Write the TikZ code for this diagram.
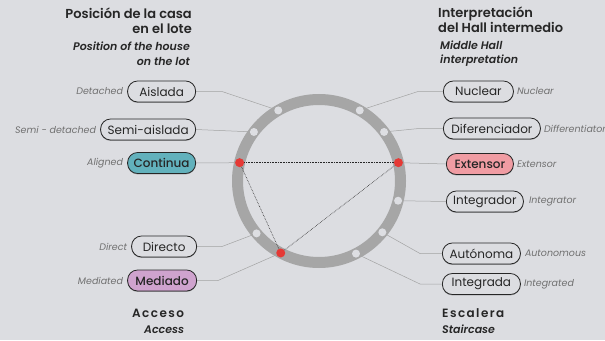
\documentclass[tikz,border=0pt]{standalone}
\usepackage{fontspec}
\setmainfont{Poppins}
\IfFontExistsTF{Poppins Medium}{\newfontfamily\medfont{Poppins Medium}}{\newcommand\medfont{\bfseries}}
\IfFontExistsTF{Poppins SemiBold}{\newfontfamily\semifont{Poppins SemiBold}[ItalicFont={Poppins SemiBold Italic}]}{\newcommand\semifont{\bfseries}}
\usetikzlibrary{shadows}
\definecolor{bg}{HTML}{DCDDE1}
\definecolor{ringc}{HTML}{A6A6A6}
\definecolor{dotw}{HTML}{DDDEE2}
\definecolor{dotr}{HTML}{E53935}
\definecolor{tealx}{HTML}{62B1BC}
\definecolor{pinkx}{HTML}{F09CA3}
\definecolor{purpx}{HTML}{CFA3CE}
\definecolor{lbl}{HTML}{707070}
\definecolor{conn}{HTML}{A3A3A3}
\definecolor{ink}{HTML}{262626}
\begin{document}
\begin{tikzpicture}[x=1pt,y=-1pt,
 pill/.style={draw=ink, fill=bg, line width=0.8pt, rounded corners=10pt, minimum height=21pt,
   inner xsep=5pt, inner ysep=0pt, font=\fontsize{12}{13}\selectfont, text=ink,
   drop shadow={shadow xshift=0pt, shadow yshift=-0.9pt, fill=black, opacity=0.3}},
 hl/.style={font=\fontsize{12}{13}\selectfont\medfont},
 eng/.style={font=\fontsize{9.5}{11}\selectfont\itshape, text=lbl, inner sep=0pt},
 conline/.style={draw=conn, line width=0.5pt},
 tri/.style={draw=ink, line width=0.6pt, densely dotted},
 hd/.style={font=\fontsize{13}{14}\selectfont\semifont, text=ink, inner sep=0pt},
 hdi/.style={font=\fontsize{11}{13}\selectfont\semifont\itshape, text=ink, inner sep=0pt},
 hdsp/.style={font=\fontsize{12}{14}\selectfont\semifont\addfontfeatures{LetterSpace=12}, text=ink, inner sep=0pt},
 wdot/.style={circle, fill=dotw, inner sep=0pt, minimum size=8pt},
 rdot/.style={circle, fill=dotr, inner sep=0pt, minimum size=9pt},
]
\fill[bg] (0,0) rectangle (605,340);
\useasboundingbox (0,0) rectangle (605,340);

% headers
\node[hd, anchor=base east] (h1a) at (192,18) {Posición de la casa};
\node[hd, anchor=base east] (h1b) at (192,33) {en el lote};
\node[hdi, anchor=base east] (h1c) at (190,50) {Position of the house};
\node[hdi, anchor=base east] (h1d) at (190,65) {on the lot};
\node[hd, anchor=base west] (h2a) at (438,17) {Interpretación};
\node[hd, anchor=base west] (h2b) at (438,32) {del Hall intermedio};
\node[hdi, anchor=base west] (h2c) at (440,49) {Middle Hall};
\node[hdi, anchor=base west] (h2d) at (440,63) {interpretation};
\node[hdsp, anchor=base west] (h3a) at (132,317) {Acceso};
\node[hdi, anchor=base west] (h3b) at (144,333) {Access};
\node[hdsp, anchor=base west] (h4a) at (442,317) {Escalera};
\node[hdi, anchor=base west] (h4b) at (442,333) {Staircase};

% circle geometry
\coordinate (c) at (319,181);
\path (c) ++(120:81.5pt) coordinate (d1);
\path (c) ++(143:81.5pt) coordinate (d2);
\path (c) ++(167:81.5pt) coordinate (d3);
\path (c) ++(220:81.5pt) coordinate (d4);
\path (c) ++(242:81.5pt) coordinate (d5);
\path (c) ++(60:81.5pt) coordinate (d6);
\path (c) ++(37:81.5pt) coordinate (d7);
\path (c) ++(13:81.5pt) coordinate (d8);
\path (c) ++(-14:81.5pt) coordinate (d9);
\path (c) ++(-39:81.5pt) coordinate (d10);
\path (c) ++(-63:81.5pt) coordinate (d11);

% boxes left
\node[pill, minimum width=68pt, anchor=east] (aislada) at (196,91.5) {Aislada};
\node[pill, minimum width=95pt, anchor=east] (semi) at (196,129.5) {Semi-aislada};
\node[pill, hl, minimum width=68pt, anchor=east, fill=tealx] (continua) at (196,163) {Continua};
\node[pill, minimum width=65pt, anchor=east] (directo) at (197,246.5) {Directo};
\node[pill, hl, minimum width=69pt, anchor=east, fill=purpx] (mediado) at (197,280.5) {Mediado};
% boxes right
\node[pill, minimum width=70pt, anchor=west] (nuclear) at (443,91.5) {Nuclear};
\node[pill, minimum width=97pt, anchor=west] (difer) at (443,128.5) {Diferenciador};
\node[pill, hl, minimum width=67pt, anchor=west, fill=pinkx] (extensor) at (446,164) {Extensor};
\node[pill, minimum width=77pt, anchor=west] (integr) at (446,201.5) {Integrador};
\node[pill, minimum width=78pt, anchor=west] (auton) at (442,253.5) {Autónoma};
\node[pill, minimum width=78pt, anchor=west] (integra) at (442,284) {Integrada};

% english labels
\node[eng, anchor=east] (e1) at ([xshift=-4pt]aislada.west) {Detached};
\node[eng, anchor=east] (e2) at ([xshift=-4pt]semi.west) {Semi - detached};
\node[eng, anchor=east] (e3) at ([xshift=-4pt]continua.west) {Aligned};
\node[eng, anchor=east] (e4) at ([xshift=-4pt]directo.west) {Direct};
\node[eng, anchor=east] (e5) at ([xshift=-4pt]mediado.west) {Mediated};
\node[eng, anchor=west] (e6) at ([xshift=3pt]nuclear.east) {Nuclear};
\node[eng, anchor=west] (e7) at ([xshift=3pt]difer.east) {Differentiator};
\node[eng, anchor=west] (e8) at ([xshift=3pt]extensor.east) {Extensor};
\node[eng, anchor=west] (e9) at ([xshift=5pt]integr.east) {Integrator};
\node[eng, anchor=west] (e10) at ([xshift=4pt]auton.east) {Autonomous};
\node[eng, anchor=west] (e11) at ([xshift=3pt]integra.east) {Integrated};

% connectors
\draw[conline] (aislada.east) -- ++(26,0) -- (d1);
\draw[conline] (semi.east) -- (d2);
\draw[conline] (continua.east) -- (d3);
\draw[conline] (directo.east) -- ++(25,0) -- (d4);
\draw[conline] (mediado.east) -- ++(21,0) -- (d5);
\draw[conline] (nuclear.west) -- ++(-25,0) -- (d6);
\draw[conline] (difer.west) -- ++(-24,0) -- (d7);
\draw[conline] (extensor.west) -- (d8);
\draw[conline] (integr.west) -- (d9);
\draw[conline] (auton.west) -- ++(-22,0) -- (d10);
\draw[conline] (integra.west) -- ++(-22,0) -- (d11);

% ring
\draw[ringc, line width=11pt] (c) circle[radius=81.5pt];

% triangle
\draw[tri] (d3) -- (d8);
\draw[tri] (d3) -- (d5);
\draw[tri] (d5) -- (d8);

% dots
\node[wdot] (w1) at (d1) {};
\node[wdot] (w2) at (d2) {};
\node[rdot] (r3) at (d3) {};
\node[wdot] (w4) at (d4) {};
\node[rdot] (r5) at (d5) {};
\node[wdot] (w6) at (d6) {};
\node[wdot] (w7) at (d7) {};
\node[rdot] (r8) at (d8) {};
\node[wdot] (w9) at (d9) {};
\node[wdot] (w10) at (d10) {};
\node[wdot] (w11) at (d11) {};
\end{tikzpicture}
\end{document}
